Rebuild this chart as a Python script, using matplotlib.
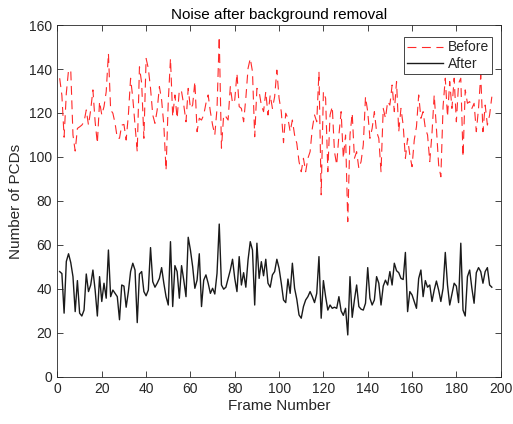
import numpy as np
import matplotlib
matplotlib.use("Agg")
import matplotlib.pyplot as plt

# Frame numbers 1..196
frames = np.arange(1, 197)

# Noise counts before background removal
before = [
    135.8, 128.0, 109.0, 129.0, 139.5, 139.5, 110.0, 102.7, 113.0, 113.7,
    114.5, 116.0, 121.4, 114.5, 121.4, 130.5, 116.0, 106.2, 125.2, 119.1,
    122.9, 129.7, 147.1, 121.4, 119.9, 115.3, 108.5, 108.5, 114.5, 114.8,
    107.7, 119.1, 135.8, 126.7, 114.5, 102.4, 141.0, 133.5, 108.5, 144.8,
    140.3, 131.2, 119.1, 115.3, 121.4, 132.0, 125.9, 114.5, 94.0, 125.2,
    144.8, 118.3, 128.2, 117.6, 130.5, 129.7, 123.6, 116.0, 131.2, 122.1,
    123.6, 134.3, 111.5, 117.6, 116.8, 119.1, 124.4, 128.2, 120.6, 114.5,
    110.0, 122.1, 154.7, 104.0, 119.1, 118.3, 116.8, 132.0, 124.4, 125.9,
    138.0, 122.9, 122.1, 116.0, 126.7, 140.3, 144.8, 138.8, 109.2, 131.2,
    129.7, 123.6, 120.6, 129.7, 119.1, 128.2, 122.1, 127.4, 139.5, 126.7,
    120.6, 106.5, 119.9, 117.6, 111.5, 116.8, 110.0, 106.2, 97.9, 93.3,
    99.4, 93.3, 99.4, 102.4, 113.0, 119.1, 116.0, 138.8, 82.8, 129.7,
    126.7, 93.3, 119.1, 122.9, 102.4, 96.4, 110.0, 120.6, 99.4, 110.0,
    70.6, 110.0, 119.9, 99.4, 102.4, 94.8, 97.9, 105.5, 127.4, 120.6,
    108.5, 113.0, 120.6, 111.5, 108.5, 93.3, 122.1, 117.6, 125.2, 123.6,
    132.7, 120.6, 134.3, 111.5, 122.1, 114.5, 99.4, 108.5, 100.9, 95.6,
    107.7, 113.8, 128.2, 117.6, 120.6, 113.0, 110.0, 97.9, 110.8, 128.2,
    113.0, 96.4, 91.0, 122.9, 135.8, 118.3, 134.3, 122.1, 135.8, 116.0,
    133.5, 135.8, 100.1, 130.5, 124.4, 125.2, 122.1, 124.4, 111.5, 122.1,
    137.3, 111.5, 123.6, 114.5, 119.1, 127.4,
]

# Noise counts after background removal
after = [
    47.9, 47.0, 29.0, 52.5, 56.0, 52.0, 45.6, 29.7, 43.8, 29.0,
    27.7, 30.4, 46.8, 38.8, 41.8, 48.6, 39.5, 27.7, 45.6, 34.3,
    42.6, 35.8, 57.7, 36.5, 39.5, 38.0, 36.5, 26.0, 41.8, 41.3,
    31.7, 38.8, 47.9, 51.7, 48.6, 24.7, 46.8, 47.9, 38.8, 36.9,
    39.5, 58.8, 43.3, 40.8, 42.6, 44.8, 49.7, 42.6, 36.5, 32.7,
    61.5, 32.0, 50.6, 47.9, 35.8, 50.6, 44.0, 36.5, 63.5, 57.7,
    50.2, 40.3, 44.0, 56.0, 32.0, 44.0, 46.4, 42.6, 38.0, 40.3,
    37.7, 47.1, 69.5, 41.8, 39.9, 40.8, 44.8, 48.6, 53.5, 44.8,
    38.8, 54.7, 41.8, 47.4, 40.8, 53.2, 61.5, 57.7, 32.7, 60.8,
    44.8, 52.4, 46.0, 53.5, 42.6, 40.8, 46.4, 47.9, 53.5, 49.4,
    42.6, 35.0, 33.8, 44.5, 38.0, 51.7, 40.3, 35.3, 28.2, 26.7,
    32.0, 35.0, 36.5, 38.8, 36.5, 33.8, 38.0, 54.7, 26.7, 43.8,
    36.5, 30.4, 32.7, 31.2, 31.7, 31.2, 36.5, 30.0, 28.0, 31.2,
    19.1, 45.6, 27.1, 35.0, 41.8, 32.0, 30.8, 30.4, 33.5, 49.7,
    35.8, 32.7, 35.0, 45.6, 42.6, 32.7, 41.3, 44.0, 41.8, 47.9,
    41.8, 51.7, 48.3, 47.4, 44.8, 44.3, 56.6, 29.7, 38.8, 37.3,
    34.3, 31.2, 44.8, 48.6, 36.5, 43.8, 40.8, 41.8, 34.3, 39.5,
    43.6, 39.5, 34.3, 40.3, 56.6, 41.8, 32.7, 37.7, 42.6, 41.3,
    33.8, 60.8, 30.4, 27.7, 45.6, 48.6, 40.3, 33.5, 47.4, 49.7,
    47.9, 42.6, 47.9, 49.7, 41.8, 40.8,
]

plt.rcParams['font.family'] = ['Liberation Sans', 'DejaVu Sans']
axis_col = '#262626'

fig = plt.figure(figsize=(5.13, 4.24), dpi=100)
ax = fig.add_axes([0.112, 0.111, 0.864, 0.830])

ax.plot(frames, before, color='#ff2a2a', lw=0.8, dashes=(8, 5), label='Before')
ax.plot(frames, after, color='#1a1a1a', lw=1.0, label='After')

ax.set_xlim(0, 200)
ax.set_ylim(0, 160)
ax.set_xticks(range(0, 201, 20))
ax.set_yticks(range(0, 161, 20))
ax.tick_params(direction='in', top=True, right=True, length=4, width=0.6,
               labelsize=10, colors=axis_col, pad=4)
for s in ax.spines.values():
    s.set_linewidth(0.6)
    s.set_color(axis_col)

ax.set_title('Noise after background removal', fontsize=11, color='black', pad=4)
ax.set_xlabel('Frame Number', fontsize=11, color=axis_col, labelpad=2)
ax.set_ylabel('Number of PCDs', fontsize=11, color=axis_col, labelpad=4)

leg = ax.legend(loc='upper right', fontsize=10, fancybox=False, framealpha=1,
                edgecolor=axis_col, handlelength=2.6, handletextpad=0.3,
                borderpad=0.22, labelspacing=0.2, borderaxespad=0.0,
                bbox_to_anchor=(0.98, 0.965))
leg.get_frame().set_linewidth(0.6)
for t in leg.get_texts():
    t.set_color(axis_col)

fig.savefig('out.png', dpi=100)
